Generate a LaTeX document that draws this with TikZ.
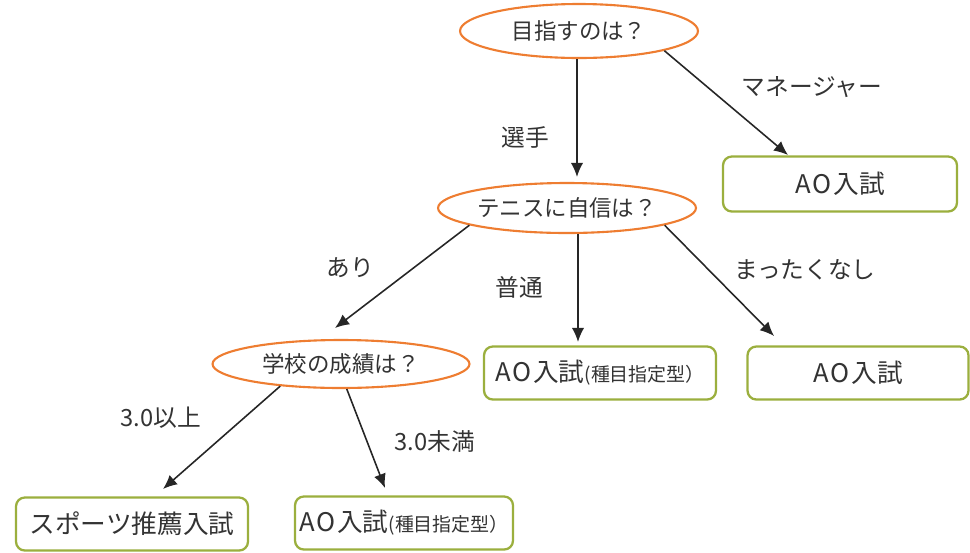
\documentclass[tikz,border=0pt]{standalone}
\usepackage{fontspec}
\setmainfont{Noto Sans CJK JP}
\usetikzlibrary{calc,shapes.geometric,arrows.meta}

\definecolor{qorange}{HTML}{EE7D31}
\definecolor{rgreen}{HTML}{9BAF3E}
\definecolor{txtgray}{HTML}{333333}

\tikzset{
  question/.style={ellipse,draw=qorange,line width=1.2pt,fill=white,inner sep=0pt,
    text=txtgray,font=\fontsize{12.8}{14}\selectfont},
  result/.style={rectangle,rounded corners=5pt,draw=rgreen,line width=1.3pt,fill=white,
    inner sep=0pt,text=txtgray,font=\fontsize{14.6}{16}\selectfont},
  branch/.style={text=txtgray,font=\fontsize{13.5}{15}\selectfont},
  flow/.style={-{Latex[length=8pt,width=7pt]},line width=0.9pt,draw=black!85}
}
\newcommand{\kind}{{\fontsize{10.8}{12}\selectfont(種目指定型）}}
\newcommand{\ao}{A\kern1pt O\kern1pt 入試}

\begin{document}
\begin{tikzpicture}[x=0.02cm,y=-0.02cm]

  % --- Canvas ---
  \useasboundingbox (0,0) rectangle (970,552);

  % --- Questions ---
  \node[question,minimum width=4.76cm,minimum height=1.08cm] (goal) at (579,31) {目指すのは？};
  \node[question,minimum width=5.16cm,minimum height=1.0cm] (tennis) at (567,208) {テニスに自信は？};
  \node[question,minimum width=5.14cm,minimum height=0.96cm] (grade) at (341,364) {学校の成績は？};

  % --- Results ---
  \node[result,minimum width=4.68cm,minimum height=1.1cm] (aoMgr) at (840,184) {\ao};
  \node[result,minimum width=4.64cm,minimum height=1.06cm] (aoMid) at (600,373) {\ao\kind};
  \node[result,minimum width=4.42cm,minimum height=1.06cm] (aoNone) at (858,373) {\ao};
  \node[result,minimum width=4.64cm,minimum height=1.06cm] (sports) at (132,524) {スポーツ推薦入試};
  \node[result,minimum width=4.36cm,minimum height=1.06cm] (aoLow) at (404,523) {\ao\kind};

  % --- Arrow ends ---
  \coordinate (player) at (577,177);
  \coordinate (mgrEnd) at (788,155);
  \coordinate (yesEnd) at (335,328);
  \coordinate (avgEnd) at (578,342);
  \coordinate (noneEnd) at (774,336);
  \coordinate (highEnd) at (163,489);
  \coordinate (lowEnd) at (385,488);

  % --- Connectors ---
  \draw[flow] (goal.south -| player) -- (player);
  \draw[flow] (goal.-13) -- (mgrEnd);
  \draw[flow] (tennis.-170) -- (yesEnd);
  \draw[flow] (tennis.south -| avgEnd) -- (avgEnd);
  \draw[flow] (tennis.-10) -- (noneEnd);
  \draw[flow] (grade.-160) -- (highEnd);
  \draw[flow] (grade.-77) -- (lowEnd);

  % --- Branch labels ---
  \node[branch] (lPlayer) at (525,137) {選手};
  \node[branch] (lMgr) at (812,87) {マネージャー};
  \node[branch] (lYes) at (350,268) {あり};
  \node[branch] (lAvg) at (519,287) {普通};
  \node[branch] (lNone) at (805,270) {まったくなし};
  \node[branch] (lHigh) at (161,418) {3.0以上};
  \node[branch] (lLow) at (435,441) {3.0未満};

\end{tikzpicture}
\end{document}
